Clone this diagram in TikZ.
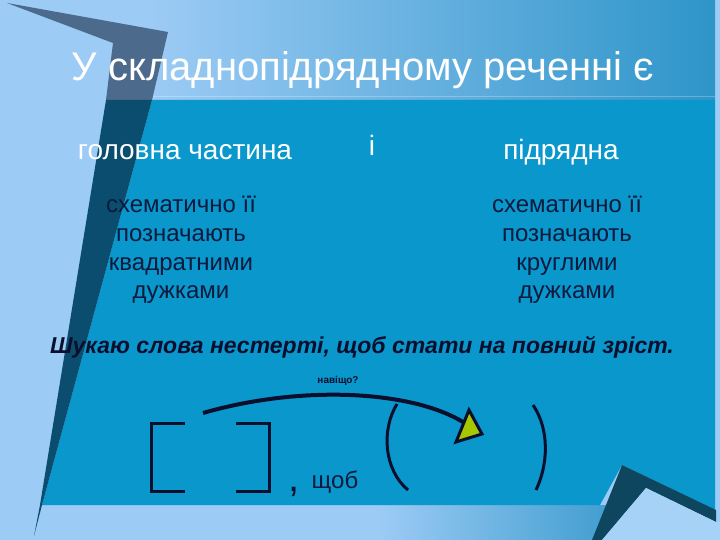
\documentclass[tikz,border=0pt]{standalone}
\usepackage{fontspec}
\setmainfont{Liberation Sans}
\usetikzlibrary{calc}
\definecolor{bglight}{HTML}{9CCBF5}
\definecolor{hdrright}{HTML}{2E95C9}
\definecolor{bandright}{HTML}{3D9CCE}
\definecolor{panel}{HTML}{0A97CB}
\definecolor{slate}{HTML}{4C6A8C}
\definecolor{strip}{HTML}{0B4D6E}
\definecolor{folddark}{HTML}{0E4660}
\definecolor{foldlight}{HTML}{A6D2F7}
\definecolor{bodytxt}{HTML}{0B1A3D}
\definecolor{inkline}{HTML}{0A0F2E}
\definecolor{arrowfill}{HTML}{A6C800}
\tikzset{
  headtxt/.style={text=white, inner sep=0pt, font=\fontsize{28}{34}\selectfont},
  bodyline/.style={text=bodytxt, inner sep=0pt, anchor=base, font=\fontsize{24}{28}\selectfont},
  inkstroke/.style={draw=inkline, line width=3pt},
}
\begin{document}
\begin{tikzpicture}[x=1pt,y=-1pt]
\useasboundingbox (0,0) rectangle (720,540);
% background
\fill[bglight] (0,0) rectangle (720,540);
% header gradient
\shade[left color=bglight, right color=hdrright] (150,0) rectangle (715,100);
\draw[white, opacity=0.25, line width=1pt] (152,97) -- (715,97);
% bottom band
\shade[left color=bglight, right color=bandright] (380,505) rectangle (620,540);
% main panel
\fill[panel] (152,100) -- (715,100) -- (715,510) -- (622,465) -- (600,505) -- (42,505) -- cycle;
% left folded strip
\fill[slate] (7,3) -- (168,32) -- (152,100) -- (106,100) -- (113,43) -- cycle;
\fill[strip] (106,100) -- (152,100) -- (42,505) -- (34,536) -- (40,505) -- cycle;
% bottom-right fold
\fill[folddark] (592,540) -- (622,465) -- (716,510) -- (716,522) -- (646,488) -- (602,540) -- cycle;
\fill[foldlight] (602,540) -- (646,488) -- (716,522) -- (720,522) -- (720,540) -- cycle;

% title
\node[text=white, inner sep=0pt, anchor=base, font=\fontsize{40}{48}\selectfont] (title) at (363,81) {У складнопідрядному реченні є};

% headings
\node[headtxt, anchor=base] (main) at (185,160) {головна частина};
\node[headtxt, anchor=base] (and) at (372,156) {і};
\node[headtxt, anchor=base] (sub) at (561,160) {підрядна};

% left description
\node[bodyline] (l1) at (181,213) {схематично її};
\node[bodyline] (l2) at (181,241.5) {позначають};
\node[bodyline] (l3) at (181,270) {квадратними};
\node[bodyline] (l4) at (181,298.5) {дужками};
% right description
\node[bodyline] (r1) at (567,213) {схематично її};
\node[bodyline] (r2) at (567,241.5) {позначають};
\node[bodyline] (r3) at (567,270) {круглими};
\node[bodyline] (r4) at (567,298.5) {дужками};

% example sentence
\node[text=inkline, inner sep=0pt, anchor=base, font=\fontsize{23}{28}\selectfont\bfseries\itshape] (sent) at (362,353) {Шукаю слова нестерті, щоб стати на повний зріст.};

% question label
\node[text=inkline, inner sep=0pt, anchor=base, font=\fontsize{10}{12}\selectfont\bfseries] (q) at (338,383) {навіщо?};

% square brackets (main clause)
\draw[inkstroke] (185,423) -- (151,423) -- (151,491) -- (185,491);
\draw[inkstroke] (236,423) -- (269,423) -- (269,491) -- (236,491);
\node[text=inkline, inner sep=0pt, anchor=base, font=\fontsize{40}{48}\selectfont] (comma) at (294,491) {,};
\node[bodyline] (conj) at (335,488) {щоб};

% round brackets (subordinate clause)
\draw[inkstroke] (397,404) .. controls (381,430) and (384,470) .. (408,490);
\draw[inkstroke] (533,405) .. controls (550,430) and (548,465) .. (536,490);

% question arrow
\coordinate (qs) at (203,413);
\coordinate (qe) at (463,422);
\draw[draw=inkline, line width=4pt] (qs) .. controls (300,385) and (410,390) .. (qe);
\filldraw[fill=arrowfill, draw=inkline, line width=3pt, line join=miter] (469,410) -- (482,434) -- (456,442) -- cycle;
\end{tikzpicture}
\end{document}
